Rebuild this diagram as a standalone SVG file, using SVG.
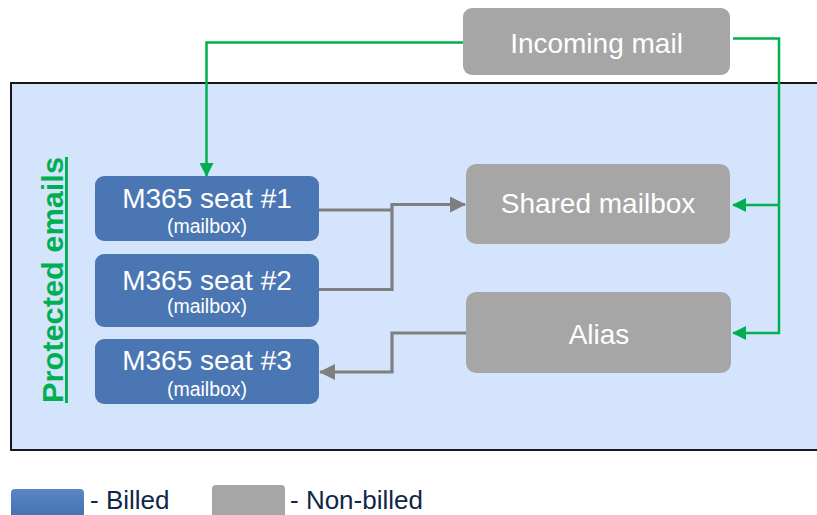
<svg xmlns="http://www.w3.org/2000/svg" width="817" height="515" viewBox="0 0 817 515">
<defs>
<style>
.blue{fill:#4a76b4}
.gray{fill:#a6a6a6}
.t{font-family:"Liberation Sans",Arial,sans-serif;fill:#ffffff;text-anchor:middle}
.big{font-size:28px}
.small{font-size:19.5px}
.g{fill:none;stroke:#00b050;stroke-width:2.5}
.k{fill:none;stroke:#7f7f7f;stroke-width:3.2}
.leg{font-family:"Liberation Sans",Arial,sans-serif;font-size:26px;fill:#0f2747}
</style>
<marker id="ag" viewBox="0 0 14 14" refX="13" refY="7" markerWidth="14" markerHeight="14" markerUnits="userSpaceOnUse" orient="auto">
<path d="M0,0 L14,7 L0,14 Z" fill="#00b050"/>
</marker>
<marker id="ak" viewBox="0 0 16 16" refX="15" refY="8" markerWidth="16" markerHeight="16" markerUnits="userSpaceOnUse" orient="auto">
<path d="M0,0 L16,8 L0,16 Z" fill="#7f7f7f"/>
</marker>
<linearGradient id="lb" x1="0" y1="0" x2="0" y2="1">
<stop offset="0" stop-color="#5a86c5"/>
<stop offset="1" stop-color="#3a67a8"/>
</linearGradient>
</defs>
<rect width="817" height="515" fill="#ffffff"/>
<g id="container">
<rect x="11" y="83" width="830" height="367" fill="#d4e4fc" stroke="#000000" stroke-width="1.8"/>
<text transform="translate(63,280) rotate(-90)" text-anchor="middle" font-family="'Liberation Sans',Arial,sans-serif" font-size="29" font-weight="bold" fill="#00b050" text-decoration="underline" textLength="246" lengthAdjust="spacingAndGlyphs">Protected emails</text>
</g>
<g id="connectors">
<polyline class="g" points="463,42.5 206.5,42.5 206.5,176" marker-end="url(#ag)"/>
<polyline class="g" points="733,38.5 779,38.5 779,333 733,333" marker-end="url(#ag)"/>
<line class="g" x1="779" y1="205" x2="733" y2="205" marker-end="url(#ag)"/>
<polyline class="k" points="319,210 392,210"/>
<polyline class="k" points="319,289.5 392,289.5 392,204.5 465,204.5" marker-end="url(#ak)"/>
<polyline class="k" points="466,333 392,333 392,372 320,372" marker-end="url(#ak)"/>
</g>
<g id="incoming">
<rect class="gray" x="463" y="8" width="267" height="67" rx="9"/>
<text class="t big" x="596.5" y="53">Incoming mail</text>
</g>
<g id="shared">
<rect class="gray" x="466" y="164" width="264" height="80" rx="10"/>
<text class="t big" x="598" y="213">Shared mailbox</text>
</g>
<g id="alias">
<rect class="gray" x="466" y="292" width="265" height="81" rx="10"/>
<text class="t big" x="599" y="344">Alias</text>
</g>
<g id="seat1">
<rect class="blue" x="95" y="176" width="224" height="65" rx="9"/>
<text class="t big" x="207" y="208">M365 seat #1</text>
<text class="t small" x="207" y="233">(mailbox)</text>
</g>
<g id="seat2">
<rect class="blue" x="95" y="254" width="224" height="73" rx="9"/>
<text class="t big" x="207" y="290">M365 seat #2</text>
<text class="t small" x="207" y="313">(mailbox)</text>
</g>
<g id="seat3">
<rect class="blue" x="95" y="339" width="224" height="65" rx="9"/>
<text class="t big" x="207" y="370">M365 seat #3</text>
<text class="t small" x="207" y="396">(mailbox)</text>
</g>
<g id="legend">
<rect x="11" y="489" width="73" height="40" rx="4" fill="url(#lb)"/>
<text class="leg" x="90" y="509">- Billed</text>
<rect x="212" y="485" width="73" height="44" rx="4" fill="#a6a6a6"/>
<text class="leg" x="290" y="509">- Non-billed</text>
</g>
</svg>
